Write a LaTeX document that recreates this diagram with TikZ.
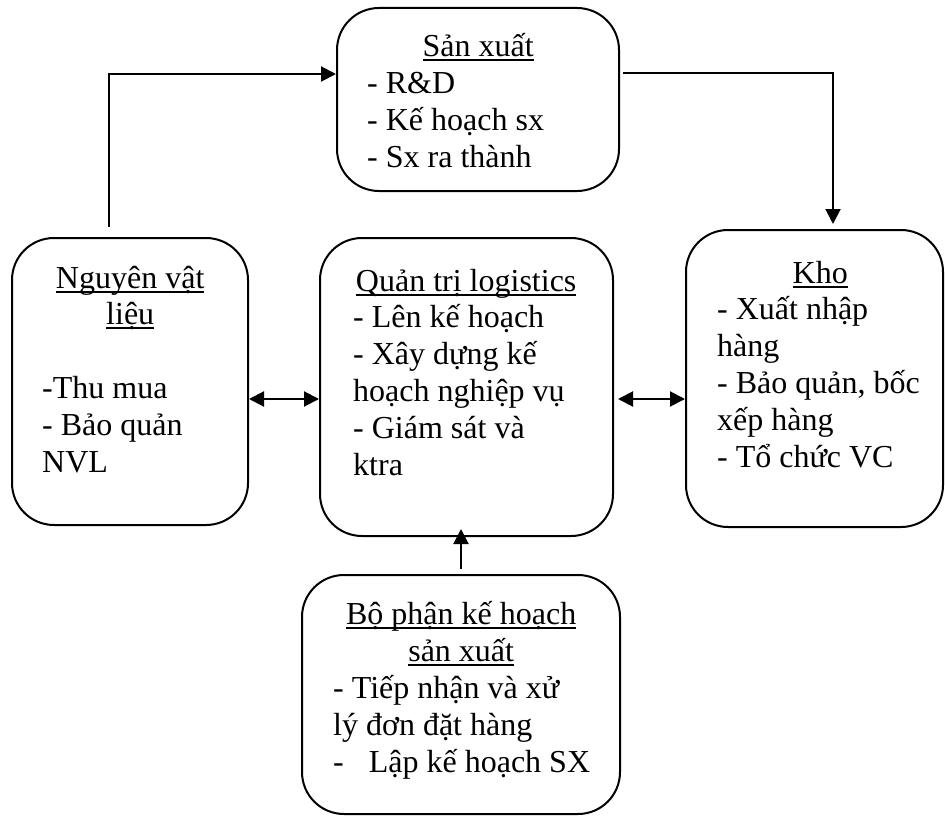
\documentclass[tikz,border=0pt]{standalone}
\usepackage{fontspec}
\setmainfont{Liberation Serif}
\usetikzlibrary{arrows.meta}

% underlined title text at a fixed depth below the baseline
\newcommand\undl[1]{\setbox0\hbox{#1}\rlap{\rule[-4.5pt]{\wd0}{2pt}}\box0}
% centred, underlined title line of a given width (in pt)
\newcommand\ttl[2]{\makebox[#1pt][c]{\undl{#2}}}

\tikzset{
  box/.style={draw, line width=2pt, rounded corners=42pt, rectangle},
  % texts are placed by the baseline of their last line
  txt/.style={inner sep=0pt, align=left, anchor=base west,
              font=\fontsize{32}{36.8}\selectfont},
  arr/.style={line width=2pt, -{Triangle[length=15pt,width=15pt]}},
  dbl/.style={line width=2pt, {Triangle[length=15pt,width=15pt]}-{Triangle[length=15pt,width=15pt]}},
}

\begin{document}
\begin{tikzpicture}[x=1pt,y=-1pt]
\useasboundingbox (0,0) rectangle (945,816);
\clip (0,0) rectangle (945,816);

% boxes
\node[box, minimum width=282pt, minimum height=183pt] (sx)  at (478,99.5)  {};
\node[box, minimum width=236pt, minimum height=287pt] (nvl) at (130,381.5) {};
\node[box, minimum width=293pt, minimum height=298pt] (qt)  at (466.5,387) {};
\node[box, minimum width=257pt, minimum height=297pt] (kho) at (814.5,378.5) {};
\node[box, minimum width=318pt, minimum height=239pt] (bp)  at (461,694.5) {};

% box texts
\node[txt] (sxt) at (367,167) {\ttl{222}{Sản xuất}\\- R\&D\\- Kế hoạch sx\\- Sx ra thành};
\node[txt] (nvlt) at (42,472) {\ttl{176}{Nguyên vật}\\\ttl{176}{liệu}\\[36.8pt]-Thu mua\\- Bảo quản\\NVL};
\node[txt] (qtt) at (353,475) {\ttl{226}{Quản trị logistics}\\- Lên kế hoạch\\- Xây dựng kế\\hoạch nghiệp vụ\\- Giám sát và\\ktra};
\node[txt] (khot) at (717,467) {\ttl{206}{Kho}\\- Xuất nhập\\hàng\\- Bảo quản, bốc\\xếp hàng\\- Tổ chức VC};
\node[txt] (bpt) at (333,772) {\ttl{256}{Bộ phận kế hoạch}\\\ttl{256}{sản xuất}\\- Tiếp nhận và xử\\lý đơn đặt hàng\\-\hspace{25pt}Lập kế hoạch SX};

% connectors
\coordinate (nvlout) at (109,227);
\draw[arr] (nvlout) |- (sx.west |- 0,74);

\coordinate (sxout) at (623,73);
\coordinate (khoin) at (833,224);
\draw[arr] (sxout) -| (khoin);

\draw[dbl] (nvl.east |- 0,399) -- (qt.west |- 0,399);
\draw[dbl, shorten <=4pt] (qt.east |- 0,399) -- (kho.west |- 0,399);

\draw[arr, shorten <=5pt, shorten >=-8pt] (bp.north) -- (bp.north |- qt.south);
\end{tikzpicture}
\end{document}
